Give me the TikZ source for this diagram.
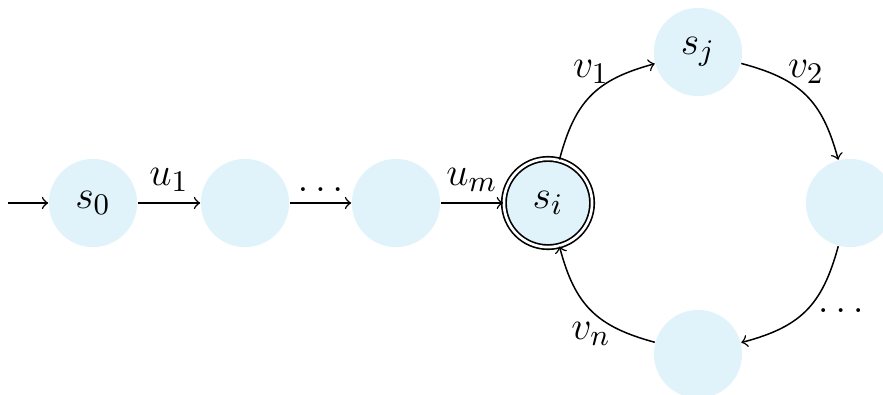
\documentclass[tikz,border=0pt]{standalone}
\definecolor{statefill}{RGB}{224,242,250}
\begin{document}
\begin{tikzpicture}[x=0.3005pt,y=-0.3005pt,>=to,
  every node/.style={font=\fontsize{12.5}{15}\selectfont},
  st/.style={circle,fill=statefill,minimum size=26.5pt,inner sep=0pt},
  acc/.style={st,draw,double,double distance=0.8pt,line width=0.5pt},
  tr/.style={->,line width=0.45pt},
  arc/.style={tr,bend left=30,looseness=1.15}]
\useasboundingbox (0,0) rectangle (883,394);
\node[st] (s0) at (93,203) {$s_0$};
\node[st] (n1) at (245,203) {};
\node[st] (n2) at (396,203) {};
\node[acc] (si) at (548,203) {$s_i$};
\node[st] (sj) at (698,52) {$s_j$};
\node[st] (nr) at (850,203) {};
\node[st] (nb) at (698,354) {};
\coordinate (start) at (8,203);
\draw[tr] (start) -- (s0);
\draw[tr] (s0) -- node[above] {$u_1$} (n1);
\draw[tr] (n1) -- node[above] {$\dots$} (n2);
\draw[tr] (n2) -- node[above] {$u_m$} (si);
\draw[arc] (si) to node[above] {$v_1$} (sj);
\draw[arc] (sj) to node[above] {$v_2$} (nr);
\draw[arc] (nr) to node[right] {$\dots$} (nb);
\draw[arc] (nb) to node[below] {$v_n$} (si);
\end{tikzpicture}
\end{document}
